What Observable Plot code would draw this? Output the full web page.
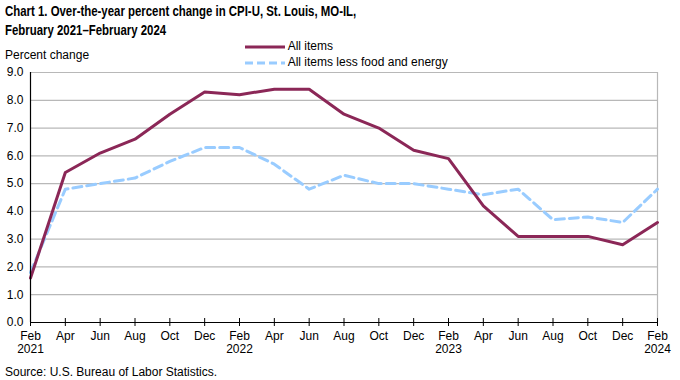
<!DOCTYPE html>
<html>
<head>
<meta charset="utf-8">
<script src="https://cdn.jsdelivr.net/npm/d3@7"></script>
<script src="https://cdn.jsdelivr.net/npm/@observablehq/plot@0.6"></script>
<style>
  body { margin: 0; background: #fff; }
  #wrap { position: relative; width: 680px; height: 380px; font-family: "Liberation Sans", Arial, sans-serif; color: #000; overflow: hidden; }
  #chart svg { position: absolute; left: 0; top: 0; }
  .t { position: absolute; white-space: nowrap; }
  #title { left: 5px; top: 2px; font-size: 14px; font-weight: bold; line-height: 19px; transform: scaleX(0.815); transform-origin: 0 0; }
  #ylab { left: 5px; top: 48px; font-size: 12px; }
  .leg { position: absolute; left: 245px; font-size: 12px; line-height: 14px; }
  .leg svg { vertical-align: middle; }
  #src { left: 5px; top: 365px; font-size: 12px; }
</style>
</head>
<body>
<div id="wrap">
  <div id="chart"></div>
  <div id="title" class="t">Chart 1. Over-the-year percent change in CPI-U, St. Louis, MO-IL,<br>February 2021–February 2024</div>
  <div id="ylab" class="t">Percent change</div>
  <div id="leg1" class="leg t" style="top:39px"></div>
  <div id="leg2" class="leg t" style="top:55px"></div>
  <div id="src" class="t">Source: U.S. Bureau of Labor Statistics.</div>
</div>
<script>
const months = ["Feb","Apr","Jun","Aug","Oct","Dec","Feb","Apr","Jun","Aug","Oct","Dec","Feb","Apr","Jun","Aug","Oct","Dec","Feb"];
const years  = ["2021","2021","2021","2021","2021","2021","2022","2022","2022","2022","2022","2022","2023","2023","2023","2023","2023","2023","2024"];
const allItems = [1.6, 5.4, 6.1, 6.6, 7.5, 8.3, 8.2, 8.4, 8.4, 7.5, 7.0, 6.2, 5.9, 4.2, 3.1, 3.1, 3.1, 2.8, 3.6];
const core     = [1.8, 4.8, 5.0, 5.2, 5.8, 6.3, 6.3, 5.7, 4.8, 5.3, 5.0, 5.0, 4.8, 4.6, 4.8, 3.7, 3.8, 3.6, 4.8];
const yTicks = [0,1,2,3,4,5,6,7,8,9];
const seriesNames = ["All items", "All items less food and energy"];
const colors = ["#8b2757", "#99ccff"];

const idx = months.map((m, i) => i);
const rows = [];
idx.forEach(i => {
  rows.push({i, value: allItems[i], series: seriesNames[0]});
  rows.push({i, value: core[i], series: seriesNames[1]});
});
const lastIdx = idx[idx.length - 1];

const fmtX = i => months[i] === "Feb" ? months[i] + "\n" + years[i] : months[i];

const chart = Plot.plot({
  width: 680,
  height: 380,
  marginLeft: 30,
  marginRight: 23,
  marginTop: 72,
  marginBottom: 58,
  style: {fontFamily: "Liberation Sans, Arial, sans-serif", fontSize: "12px", background: "transparent"},
  x: {type: "linear", domain: [0, lastIdx]},
  y: {domain: [0, 9]},
  marks: [
    Plot.ruleY(yTicks.filter(d => d > 0), {stroke: "#b8b8b8", strokeWidth: 1.2}),
    Plot.ruleX([lastIdx], {stroke: "#b8b8b8", strokeWidth: 1.2}),
    Plot.line(rows.filter(d => d.series === seriesNames[1]), {x: "i", y: "value", stroke: colors[1], strokeWidth: 3, strokeDasharray: "9,5"}),
    Plot.line(rows.filter(d => d.series === seriesNames[0]), {x: "i", y: "value", stroke: colors[0], strokeWidth: 3}),
    Plot.ruleY([0], {stroke: "#000", strokeWidth: 1.2}),
    Plot.ruleX([0], {stroke: "#000", strokeWidth: 1.2}),
    Plot.ruleX(idx, {x: d => d, y1: 0, y2: 0, insetTop: -4, insetBottom: -4, stroke: "#000"}),
    Plot.axisY(yTicks, {tickFormat: d => d.toFixed(1), tickSize: 0, tickPadding: 7, label: null, fill: "#000", fontSize: 12}),
    Plot.axisX(idx, {tickFormat: fmtX, tickSize: 0, tickPadding: 8, label: null, fill: "#000", fontSize: 12, lineHeight: 1.1})
  ]
});
document.getElementById("chart").appendChild(chart);

function legendSwatch(color, dash) {
  return `<svg width="40" height="8"><line x1="0" y1="4" x2="40" y2="4" stroke="${color}" stroke-width="3" ${dash ? 'stroke-dasharray="8,4"' : ''}/></svg>`;
}
document.getElementById("leg1").innerHTML = legendSwatch(colors[0], false) + " " + seriesNames[0];
document.getElementById("leg2").innerHTML = legendSwatch(colors[1], true) + " " + seriesNames[1];
</script>
</body>
</html>
